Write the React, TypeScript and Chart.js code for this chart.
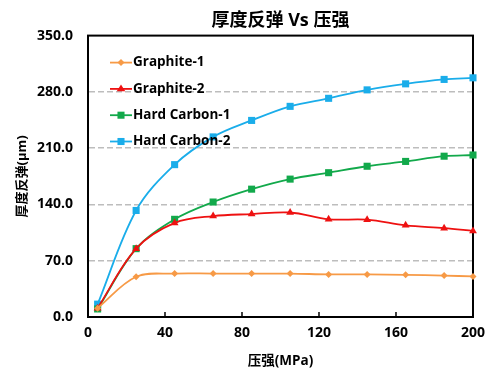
import React, { useEffect, useRef } from 'react';
import { Chart, registerables } from 'chart.js';

Chart.register(...registerables);

const pressure = [5, 25, 45, 65, 85, 105, 125, 145, 165, 185, 200];
const graphite1 = [11, 50, 54, 54, 54, 54, 53, 53, 52.5, 51.5, 50.5];
const graphite2 = [11, 85, 117, 125.5, 128, 130, 121.5, 121, 114, 110.5, 107];
const hardCarbon1 = [10, 85, 121.5, 143, 159, 171.5, 179.5, 187.5, 193.5, 200, 201.5];
const hardCarbon2 = [16, 132.5, 189.5, 224, 244.5, 262, 272, 282.5, 290, 295.5, 297.5];
const seriesNames = ['Graphite-1', 'Graphite-2', 'Hard Carbon-1', 'Hard Carbon-2'];
const xTicks = [0, 40, 80, 120, 160, 200];
const yTicks = [0, 70, 140, 210, 280, 350];
const chartTitle = '厚度反弹 Vs 压强';
const xTitle = '压强(MPa)';
const yTitle = '厚度反弹(μm)';

const FONT = "'Open Sans', 'Noto Sans CJK SC', sans-serif";
const COLORS = ['#F79A46', '#EE1111', '#12A94B', '#1AADEA'];
const STYLES = ['rectRot', 'triangle', 'rect', 'rect'];
const RADII = [3.5, 4.5, 5, 5];

function drawMarker(ctx: CanvasRenderingContext2D, style: string, x: number, y: number, r: number, color: string) {
  ctx.save();
  ctx.fillStyle = color;
  ctx.beginPath();
  if (style === 'rect') {
    const s = r * Math.SQRT1_2;
    ctx.rect(x - s, y - s, 2 * s, 2 * s);
  } else if (style === 'rectRot') {
    ctx.moveTo(x, y - r);
    ctx.lineTo(x + r, y);
    ctx.lineTo(x, y + r);
    ctx.lineTo(x - r, y);
    ctx.closePath();
  } else {
    const h = r * 1.5;
    ctx.moveTo(x, y - r);
    ctx.lineTo(x + r * 0.95, y + h - r);
    ctx.lineTo(x - r * 0.95, y + h - r);
    ctx.closePath();
  }
  ctx.fill();
  ctx.restore();
}

const framePlugin = {
  id: 'frame',
  beforeDatasetsDraw(chart: any) {
    const { ctx, chartArea: a, scales } = chart;
    ctx.save();
    ctx.strokeStyle = '#000';
    ctx.lineWidth = 2;
    ctx.strokeRect(a.left, a.top, a.right - a.left, a.bottom - a.top);
    ctx.lineWidth = 1.5;
    xTicks.forEach((v) => {
      const px = scales.x.getPixelForValue(v);
      if (px > a.left + 2 && px < a.right - 2) {
        ctx.beginPath();
        ctx.moveTo(px, a.bottom);
        ctx.lineTo(px, a.bottom - 5);
        ctx.stroke();
      }
    });
    ctx.restore();
  },
  afterDatasetsDraw(chart: any) {
    const { ctx, chartArea: a } = chart;
    ctx.save();
    ctx.font = `bold 13.5px ${FONT}`;
    ctx.textBaseline = 'middle';
    ctx.textAlign = 'left';
    chart.data.datasets.forEach((ds: any, i: number) => {
      const y = a.top + 27 + i * 26.3;
      const x0 = a.left + 22;
      ctx.strokeStyle = ds.borderColor;
      ctx.lineWidth = 1.8;
      ctx.beginPath();
      ctx.moveTo(x0, y);
      ctx.lineTo(x0 + 22, y);
      ctx.stroke();
      drawMarker(ctx, ds.pointStyle, x0 + 11, y, ds.pointRadius, ds.borderColor);
      ctx.fillStyle = '#000';
      ctx.fillText(ds.label, x0 + 23, y);
    });
    ctx.restore();
  },
};

export default function App() {
  const ref = useRef<HTMLCanvasElement>(null);
  useEffect(() => {
    if (!ref.current) return;
    const seriesData = [graphite1, graphite2, hardCarbon1, hardCarbon2];
    const chart = new Chart(ref.current, {
      type: 'line',
      data: {
        datasets: seriesData.map((vals, i) => ({
          label: seriesNames[i],
          data: pressure.map((p, j) => ({ x: p, y: vals[j] })),
          borderColor: COLORS[i],
          backgroundColor: COLORS[i],
          pointBackgroundColor: COLORS[i],
          pointBorderWidth: 0,
          pointStyle: STYLES[i],
          pointRadius: RADII[i],
          borderWidth: 1.8,
          tension: 0.35,
          fill: false,
          clip: false,
        })),
      },
      options: {
        responsive: false,
        animation: false,
        layout: { padding: { left: 0, right: 20, top: 0, bottom: 0 } },
        plugins: {
          legend: { display: false },
          tooltip: { enabled: false },
          title: {
            display: true,
            text: chartTitle,
            fullSize: false,
            color: '#000',
            font: { family: FONT, size: 18, weight: 'bold' },
            padding: { top: 10, bottom: 4 },
          },
        },
        scales: {
          x: {
            type: 'linear',
            min: 0,
            max: 200,
            afterBuildTicks: (s: any) => {
              s.ticks = xTicks.map((v) => ({ value: v }));
            },
            afterFit: (s: any) => {
              s.height = 52;
            },
            ticks: {
              color: '#000',
              font: { family: FONT, size: 14, weight: 'bold' },
              padding: 8,
              maxRotation: 0,
            },
            grid: { drawOnChartArea: false, drawTicks: false },
            border: { color: '#000', width: 2 },
            title: {
              display: true,
              text: xTitle,
              color: '#000',
              font: { family: FONT, size: 13.5, weight: 'bold' },
              padding: { top: 4, bottom: 0 },
            },
          },
          y: {
            type: 'linear',
            min: 0,
            max: 350,
            afterBuildTicks: (s: any) => {
              s.ticks = yTicks.map((v) => ({ value: v }));
            },
            afterFit: (s: any) => {
              s.width = 88;
            },
            ticks: {
              color: '#000',
              font: { family: FONT, size: 14, weight: 'bold' },
              padding: 15,
              callback: (v: any) => Number(v).toFixed(1),
            },
            grid: {
              drawTicks: false,
              color: (c: any) => (c.tick && (c.tick.value === 0 || c.tick.value === 350) ? 'rgba(0,0,0,0)' : '#BDBDBD'),
              lineWidth: 1.5,
            },
            border: { color: '#000', width: 2, dash: [6, 3] },
            title: {
              display: true,
              text: yTitle,
              color: '#000',
              font: { family: FONT, size: 13, weight: 'bold' },
              padding: { top: 14, bottom: 0 },
            },
          },
        },
      },
      plugins: [framePlugin],
    } as any);
    return () => chart.destroy();
  }, []);
  return (
    <div style={{ position: 'absolute', left: 0, top: 0, width: 493, height: 369, background: '#fff' }}>
      <canvas ref={ref} width={493} height={369} style={{ width: 493, height: 369 }} />
    </div>
  );
}
